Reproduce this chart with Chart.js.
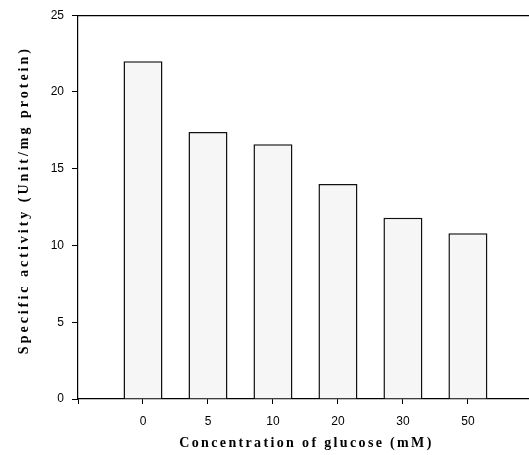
<!DOCTYPE html>
<html>
<head>
<meta charset="utf-8">
<script src="https://cdn.jsdelivr.net/npm/chart.js@4.4.1/dist/chart.umd.min.js"></script>
<style>
  html, body { margin: 0; padding: 0; background: #fff; }
  #wrap { width: 529px; height: 455px; }
</style>
</head>
<body>
<div id="wrap"><canvas id="c" width="529" height="455"></canvas></div>
<script>
// ---- data ----
const categories = ['0', '5', '10', '20', '30', '50'];
const activity = [22.0, 17.4, 16.6, 14.0, 11.8, 10.8];
const yTicks = [0, 5, 10, 15, 20, 25];
const xTitle = 'Concentration of glucose (mM)';
const yTitle = 'Specific activity (Unit/mg protein)';

const points = categories.map((c, i) => ({ x: i + 1, y: activity[i] }));

const titlePlugin = {
  id: 'spacedTitles',
  afterDraw(chart) {
    const ctx = chart.ctx;
    const a = chart.chartArea;
    ctx.save();
    ctx.fillStyle = '#000';
    ctx.font = 'bold 14px "Liberation Serif", "Times New Roman", serif';
    ctx.textAlign = 'center';
    ctx.textBaseline = 'middle';
    // x title
    ctx.letterSpacing = '2.35px';
    ctx.fillText(xTitle, (a.left + a.right) / 2 + 3, a.bottom + 44);
    // y title
    ctx.translate(24, (a.top + a.bottom) / 2 - 7);
    ctx.rotate(-Math.PI / 2);
    ctx.letterSpacing = '3px';
    ctx.fillText(yTitle, 0, 0);
    ctx.restore();
  }
};

new Chart(document.getElementById('c'), {
  type: 'bar',
  data: {
    datasets: [{
      data: points,
      backgroundColor: '#f6f6f6',
      borderColor: '#111',
      borderWidth: 1.5,
      borderSkipped: 'bottom',
      categoryPercentage: 1,
      barPercentage: 0.6
    }]
  },
  options: {
    responsive: false,
    animation: false,
    devicePixelRatio: 1,
    layout: { padding: { left: 0, right: 0, top: 15, bottom: 0 } },
    plugins: { legend: { display: false }, tooltip: { enabled: false } },
    scales: {
      x: {
        type: 'linear',
        position: 'bottom',
        offset: false,
        min: 0,
        max: 6.94,
        afterBuildTicks: s => { s.ticks = [0, 1, 2, 3, 4, 5, 6].map(v => ({ value: v })); },
        afterFit: s => { s.height = 56; },
        ticks: {
          callback: v => (v >= 1 && v <= categories.length) ? categories[v - 1] : '',
          color: '#000',
          font: { family: '"Liberation Sans", Arial, sans-serif', size: 12 },
          padding: 10,
          maxRotation: 0,
          autoSkip: false
        },
        grid: { offset: false, drawOnChartArea: false, tickLength: 5, color: '#000', lineWidth: 1 },
        border: { display: true, color: '#000', width: 1.2 }
      },
      xTop: {
        type: 'linear',
        position: 'top',
        offset: false,
        min: 0,
        max: 6.94,
        afterFit: s => { s.height = 0; },
        ticks: { display: false },
        grid: { offset: false, drawOnChartArea: false, drawTicks: false },
        border: { display: true, color: '#000', width: 1.2 }
      },
      y: {
        min: 0,
        max: 25,
        afterBuildTicks: s => { s.ticks = yTicks.map(v => ({ value: v })); },
        afterFit: s => { s.width = 78; },
        ticks: {
          color: '#000',
          font: { family: '"Liberation Sans", Arial, sans-serif', size: 12 },
          padding: 8
        },
        grid: { drawOnChartArea: false, tickLength: 6, color: '#000', lineWidth: 1 },
        border: { display: true, color: '#000', width: 1.2 }
      }
    }
  },
  plugins: [titlePlugin]
});
</script>
</body>
</html>
